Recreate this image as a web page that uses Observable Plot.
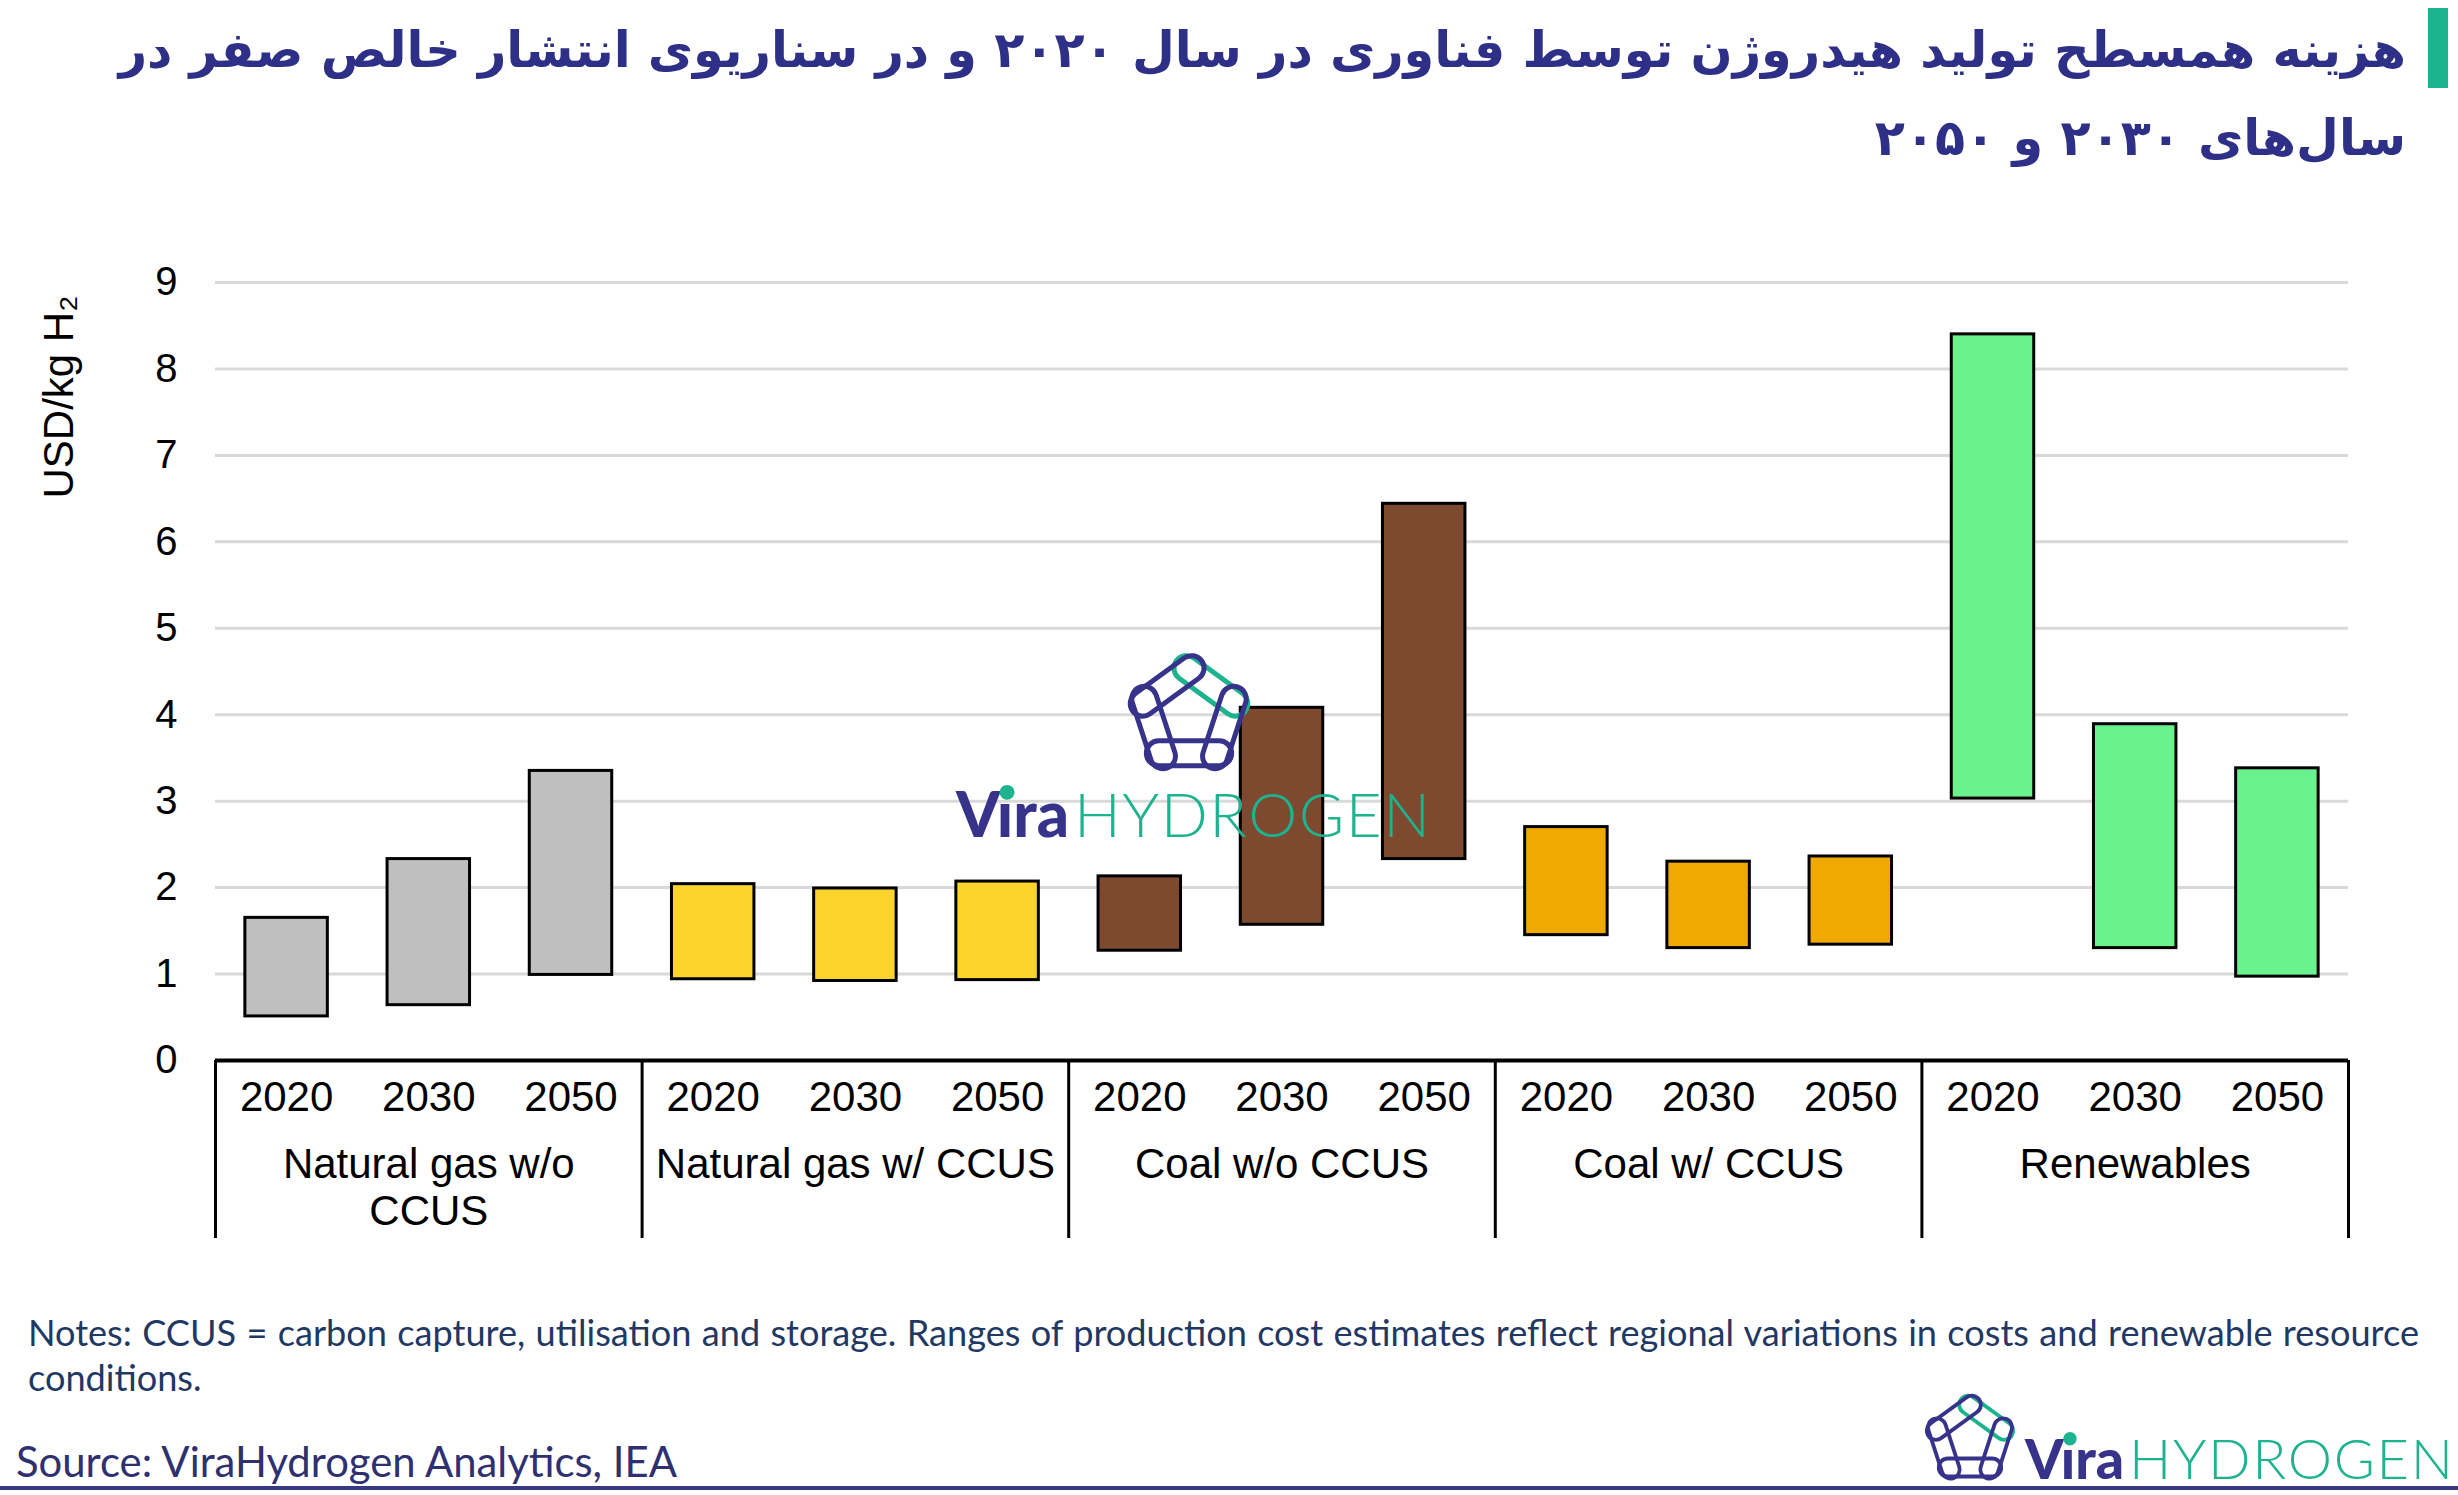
<!DOCTYPE html>
<html>
<head>
<meta charset="utf-8">
<script src="https://cdn.jsdelivr.net/npm/d3@7"></script>
<script src="https://cdn.jsdelivr.net/npm/@observablehq/plot@0.6"></script>
<style>
  html, body { margin: 0; padding: 0; background: #fff; }
  #page { position: relative; width: 2458px; height: 1495px; overflow: hidden; background: #fff; }
  #title { position: absolute; right: 52px; top: 6px; direction: rtl; text-align: right;
           font-family: "DejaVu Sans", sans-serif; font-weight: bold; color: #2E2F86;
           line-height: 88px; white-space: nowrap; }
  #title span { display: block; }
  #accent { position: absolute; left: 2428px; top: 8px; width: 20px; height: 80px; background: #1BB38D; }
  #chart { position: absolute; left: 0; top: 200px; }
  #chart svg, #chart svg text { font-family: "Liberation Sans", Arial, sans-serif !important; }
  #notes { position: absolute; left: 28px; top: 1310px; width: 2391px; font-family: Lato, "Open Sans", sans-serif;
           font-size: 32px; line-height: 45px; color: #1F3864; }
  #notes .l1 { text-align: justify; text-align-last: justify; white-space: nowrap; }
  #source { position: absolute; left: 16px; top: 1436px; font-family: Lato, "Open Sans", sans-serif;
            font-size: 38px; line-height: 50px; color: #2E3070; white-space: nowrap; }
  #rule { position: absolute; left: 0; top: 1486px; width: 2458px; height: 4px; background: #3A3886; }
  #overlay { position: absolute; left: 0; top: 0; pointer-events: none; }
</style>
</head>
<body>
<div id="page">
  <div id="title"><span id="t1">هزینه همسطح تولید هیدروژن توسط فناوری در سال ۲۰۲۰ و در سناریوی انتشار خالص صفر در</span><span id="t2">سال‌های ۲۰۳۰ و ۲۰۵۰</span></div>
  <div id="accent"></div>
  <div id="chart"></div>
  <div id="notes"><div class="l1"><span id="n1">Notes: CCUS = carbon capture, utilisation and storage. Ranges of production cost estimates reflect regional variations in costs and renewable resource</span></div><div>conditions.</div></div>
  <div id="source"><span id="src">Source: ViraHydrogen Analytics, IEA</span></div>
  <div id="rule"></div>
</div>
<script>
// ---- Data ----
const categories = ["Natural gas w/o CCUS", "Natural gas w/ CCUS", "Coal w/o CCUS", "Coal w/ CCUS", "Renewables"];
const categoryLabels = ["Natural gas w/o\nCCUS", "Natural gas w/ CCUS", "Coal w/o CCUS", "Coal w/ CCUS", "Renewables"];
const years = ["2020", "2030", "2050"];
const lowValues  = [0.51, 0.64, 0.99,  0.94, 0.92, 0.93,  1.27, 1.57, 2.33,  1.45, 1.30, 1.34,  3.03, 1.30, 0.97];
const highValues = [1.65, 2.33, 3.35,  2.04, 1.99, 2.07,  2.13, 4.08, 6.44,  2.70, 2.30, 2.36,  8.40, 3.89, 3.38];
const categoryColors = ["#BFBFBF", "#FDD42B", "#7D4A30", "#F0A900", "#6AF28C"];
const yTicks = [0, 1, 2, 3, 4, 5, 6, 7, 8, 9];
const yLabel = "USD/kg H₂";

const rows = lowValues.map((lo, i) => ({
  i,
  category: categories[Math.floor(i / 3)],
  year: years[i % 3],
  lo,
  hi: highValues[i],
  color: categoryColors[Math.floor(i / 3)]
}));
const groupBounds = d3.range(0, categories.length * 3 + 1, 3);

// ---- Fit text blocks to the reference widths ----
function fitWidth(boxId, spanId, baseSize, target) {
  const box = document.getElementById(boxId);
  box.style.fontSize = baseSize + "px";
  const w = document.getElementById(spanId).getBoundingClientRect().width;
  box.style.fontSize = (baseSize * target / w).toFixed(2) + "px";
}
fitWidth("title", "t1", 52, 2288);
fitWidth("source", "src", 38, 661);
(function fitNotes() {
  const notes = document.getElementById("notes");
  const l1 = notes.querySelector(".l1");
  l1.style.textAlignLast = "left";
  notes.style.fontSize = "32px";
  const w = document.getElementById("n1").getBoundingClientRect().width;
  notes.style.fontSize = (32 * 2370 / w).toFixed(2) + "px";
  l1.style.textAlignLast = "justify";
})();

// ---- Chart ----
const chart = Plot.plot({
  width: 2458,
  height: 1045,
  marginTop: 82,
  marginBottom: 185,
  marginLeft: 215,
  marginRight: 110,
  style: { fontFamily: "Liberation Sans, Arial, sans-serif", fontSize: "40px", color: "#000", background: "transparent", overflow: "visible" },
  x: { domain: [0, 15] },
  y: { domain: [0, 9] },
  color: { type: "identity" },
  marks: [
    Plot.ruleY(yTicks.filter(d => d > 0), { stroke: "#D9D9D9", strokeWidth: 3 }),
    Plot.rect(rows, {
      x1: d => d.i + 0.21,
      x2: d => d.i + 0.79,
      y1: "lo",
      y2: "hi",
      fill: "color",
      stroke: "#000",
      strokeWidth: 3
    }),
    Plot.ruleY([0], { stroke: "#000", strokeWidth: 4 }),
    Plot.axisY({ ticks: yTicks, tickSize: 0, tickPadding: 38, fontSize: 40, label: null }),
    Plot.axisX({ ticks: groupBounds, tickSize: 178, tickFormat: () => "", stroke: "#000", strokeWidth: 3, label: null }),
    Plot.text(rows, { x: d => d.i + 0.5, frameAnchor: "bottom", lineAnchor: "middle", dy: 37, text: "year", fontSize: 42 }),
    Plot.text(categoryLabels, { x: (d, i) => i * 3 + 1.5, frameAnchor: "bottom", lineAnchor: "top", dy: 84, fontSize: 42, lineHeight: 1.12 }),
    Plot.text([yLabel], { frameAnchor: "top-left", rotate: -90, textAnchor: "end", dx: -172, dy: 13, fontSize: 42 })
  ]
});
document.getElementById("chart").appendChild(chart);

// ---- Logos (decorative) ----
const NAVY = "#37338A", TEAL = "#1DB38E";
const overlay = d3.select("#page").append("svg")
  .attr("id", "overlay").attr("width", 2458).attr("height", 1495);

function drawLogo(o) {
  const g = overlay.append("g");
  const L = 2 * o.R * Math.sin(Math.PI / 5) + o.linkW * 1.25;
  for (let k = 0; k < 5; k++) {
    const a1 = (-90 + 72 * k) * Math.PI / 180, a2 = (-90 + 72 * (k + 1)) * Math.PI / 180;
    const p1 = [o.cx + o.R * Math.cos(a1), o.cy + o.R * Math.sin(a1)];
    const p2 = [o.cx + o.R * Math.cos(a2), o.cy + o.R * Math.sin(a2)];
    const mx = (p1[0] + p2[0]) / 2, my = (p1[1] + p2[1]) / 2;
    const ang = Math.atan2(p2[1] - p1[1], p2[0] - p1[0]) * 180 / Math.PI;
    g.append("rect")
      .attr("x", -L / 2).attr("y", -o.linkW / 2).attr("width", L).attr("height", o.linkW)
      .attr("rx", o.linkW / 2)
      .attr("transform", `translate(${mx},${my}) rotate(${ang})`)
      .attr("fill", "none").attr("stroke", k === 0 ? TEAL : NAVY).attr("stroke-width", o.sw);
  }
  const vira = g.append("text")
    .attr("x", o.viraX).attr("y", o.baseline)
    .attr("font-family", "Lato, Roboto, sans-serif").attr("font-weight", 900)
    .attr("font-size", o.fontSize).attr("fill", NAVY)
    .attr("textLength", o.viraW).attr("lengthAdjust", "spacingAndGlyphs")
    .text("Vıra");
  try {
    const ext = vira.node().getExtentOfChar(1);
    g.append("circle").attr("cx", ext.x + ext.width / 2 + 2).attr("cy", o.baseline - o.fontSize * 0.72)
      .attr("r", o.fontSize * 0.12).attr("fill", TEAL);
  } catch (e) {}
  g.append("text")
    .attr("x", o.hydX).attr("y", o.baseline)
    .attr("font-family", "Lato, Roboto, sans-serif").attr("font-weight", 300)
    .attr("font-size", o.fontSize).attr("fill", TEAL)
    .attr("textLength", o.hydW).attr("lengthAdjust", "spacing")
    .text("HYDROGEN");
}

drawLogo({ cx: 1189, cy: 716, R: 46, linkW: 25, sw: 5, viraX: 956, viraW: 113, hydX: 1074, hydW: 356, baseline: 837, fontSize: 62 });
drawLogo({ cx: 1970, cy: 1440, R: 34, linkW: 18, sw: 3.8, viraX: 2025, viraW: 99, hydX: 2129, hydW: 324, baseline: 1479, fontSize: 56 });
</script>
</body>
</html>
